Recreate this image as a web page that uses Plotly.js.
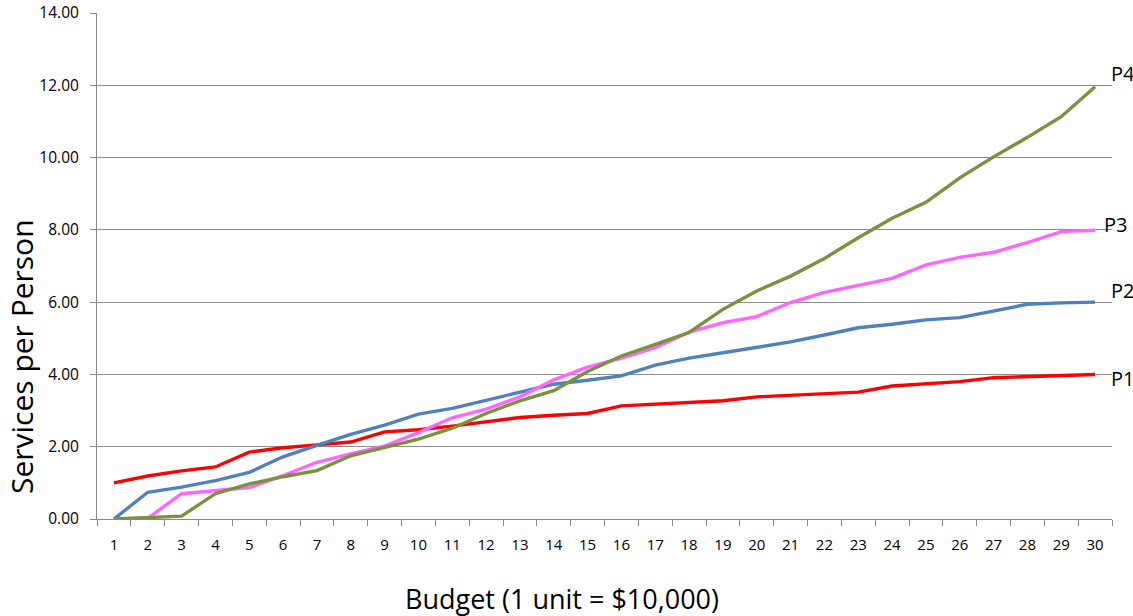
<!DOCTYPE html>
<html>
<head>
<meta charset="utf-8">
<script src="https://cdn.plot.ly/plotly-3.0.1.min.js"></script>
<style>html,body{margin:0;padding:0;background:#fff;}#chart{width:1133px;height:616px;}</style>
</head>
<body>
<div id="chart"></div>
<script>
const budget = ['1','2','3','4','5','6','7','8','9','10','11','12','13','14','15','16','17','18','19','20','21','22','23','24','25','26','27','28','29','30'];
const p1 = [1.00,1.19,1.33,1.44,1.85,1.97,2.05,2.13,2.41,2.47,2.57,2.70,2.81,2.87,2.92,3.13,3.18,3.23,3.27,3.38,3.43,3.46,3.51,3.68,3.73,3.80,3.91,3.94,3.96,4.00];
const p2 = [0.00,0.74,0.88,1.06,1.29,1.72,2.04,2.34,2.60,2.90,3.06,3.29,3.52,3.73,3.84,3.96,4.26,4.45,4.60,4.74,4.90,5.09,5.29,5.39,5.51,5.57,5.76,5.94,5.98,6.00];
const p3 = [0.00,0.02,0.70,0.78,0.87,1.20,1.57,1.80,2.02,2.39,2.80,3.04,3.38,3.85,4.20,4.45,4.74,5.17,5.43,5.60,5.99,6.27,6.46,6.66,7.03,7.24,7.38,7.65,7.95,7.99];
const p4 = [0.00,0.04,0.08,0.70,0.97,1.17,1.34,1.75,1.98,2.21,2.51,2.92,3.27,3.55,4.08,4.51,4.83,5.16,5.80,6.31,6.72,7.21,7.78,8.32,8.76,9.44,10.02,10.56,11.13,11.96];
const seriesNames = ['P1','P2','P3','P4'];
const seriesColors = ['#FF0000','#4F81BD','#FF66FF','#77933C'];
const seriesValues = [p1,p2,p3,p4];
const labelY = [3.90, 6.31, 8.15, 12.34];
const labelShift = [-3, -3, -10, -3];
const xTitle = 'Budget (1 unit = $10,000)';
const yTitle = 'Services per Person';

const traces = seriesValues.map((v,i)=>({
  type:'scatter', mode:'lines', x:budget, y:v, name:seriesNames[i],
  line:{color:seriesColors[i], width:3.4}, hoverinfo:'skip'
}));

const annotations = seriesNames.map((n,i)=>({
  x:1, y:labelY[i], xref:'paper', yref:'y', text:n, showarrow:false,
  xanchor:'left', yanchor:'middle', xshift:labelShift[i],
  font:{family:'Open Sans, sans-serif', size:20, color:'#000'}
}));
annotations.push({
  x:0.458, y:-0.158, xref:'paper', yref:'paper', text:xTitle, showarrow:false,
  xanchor:'center', yanchor:'middle',
  font:{family:'Open Sans, sans-serif', size:27, color:'#000'}
});
annotations.push({
  x:-0.0749, y:0.322, xref:'paper', yref:'paper', text:yTitle, showarrow:false,
  xanchor:'center', yanchor:'middle', textangle:-90,
  font:{family:'Open Sans, sans-serif', size:30, color:'#000'}
});

const layout = {
  width:1133, height:616,
  margin:{l:97, r:21, t:13, b:97},
  paper_bgcolor:'#fff', plot_bgcolor:'#fff',
  showlegend:false,
  font:{family:'Open Sans, sans-serif', color:'#000'},
  xaxis:{
    type:'category', range:[-0.5,29.5], tickson:'boundaries',
    ticks:'outside', ticklen:6, tickcolor:'#888', tickwidth:1,
    showline:true, linecolor:'#888', linewidth:1, showgrid:false, zeroline:false,
    tickfont:{size:15, family:'Open Sans, sans-serif'}, ticklabelstandoff:12
  },
  yaxis:{
    range:[0,14], dtick:2, tickformat:'.2f',
    ticks:'outside', ticklen:6, tickcolor:'#888', tickwidth:1,
    showline:true, linecolor:'#888', linewidth:1,
    showgrid:true, gridcolor:'#8c8c8c', gridwidth:1, zeroline:false,
    tickfont:{size:15.5, family:'Open Sans, sans-serif'}, ticklabelstandoff:8
  },
  annotations:annotations
};

Plotly.newPlot('chart', traces, layout, {displayModeBar:false, staticPlot:true});
</script>
</body>
</html>
